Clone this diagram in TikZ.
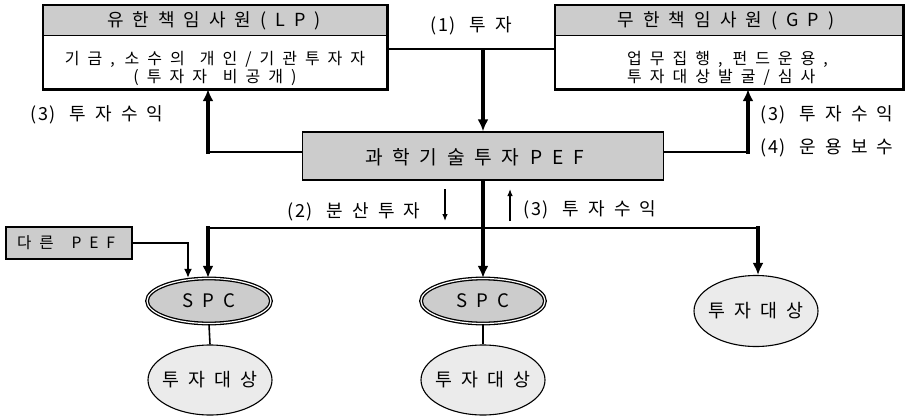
\documentclass[tikz,border=0pt]{standalone}
\usepackage{fontspec}
\setmainfont{Noto Sans CJK KR}
\newfontfamily\krw{Noto Sans CJK KR}[LetterSpace=50]
\newfontfamily\krn{Noto Sans CJK KR}[LetterSpace=10]
\newcommand\np[1]{{\krn{}#1}}
\newcommand\gp[1]{\hspace{#1}}
\usetikzlibrary{arrows.meta,shapes.geometric,calc}
\definecolor{hdr}{gray}{0.80}
\definecolor{lite}{gray}{0.92}
\begin{document}
\begin{tikzpicture}[x=1pt,y=-1pt,
  boxfill/.style={rectangle,inner sep=0pt,fill=white},
  edge/.style={line width=2.6pt},
  graybox/.style={rectangle,inner sep=0pt,fill=hdr,draw=black,line width=1.3pt},
  hdrtxt/.style={font=\krw\fontsize{18}{20}\selectfont,inner sep=0pt},
  bodytxt/.style={font=\krw\fontsize{16}{18}\selectfont,inner sep=0pt,align=center},
  peftxt/.style={font=\krw\fontsize{19.2}{21}\selectfont,inner sep=0pt},
  othtxt/.style={font=\krw\fontsize{15.6}{18}\selectfont,inner sep=0pt},
  lbl/.style={font=\krw\fontsize{18}{20}\selectfont,inner sep=0pt},
  spc/.style={ellipse,draw=black,double=white,double distance=1.2pt,line width=1.3pt,fill=hdr,
    minimum width=124pt,minimum height=45pt,inner sep=0pt,font=\krw\fontsize{18.6}{21}\selectfont},
  target/.style={ellipse,draw=black,line width=1.1pt,fill=lite,minimum width=124pt,
    inner xsep=-16pt,inner ysep=0pt,font=\krw\fontsize{18.4}{21}\selectfont},
  thinline/.style={line width=1.6pt},
  fat/.style={line width=3.4pt,-{Latex[length=12pt,width=11pt]}},
  thinarrow/.style={line width=1.6pt,-{Latex[length=9pt,width=8pt]}},
  small/.style={line width=1.2pt,-{Latex[length=7pt,width=5.5pt]}}
]
\fill[white] (0,0) rectangle (915,415);
\useasboundingbox (0,0) rectangle (915,415);

% LP box
\node[boxfill,minimum width=344pt,minimum height=84pt] (lp) at (215,47) {};
\fill[hdr] (lp.north west) rectangle ([yshift=-31pt]lp.north east);
\draw[line width=1.2pt] ([yshift=-31pt]lp.north west) -- ([yshift=-31pt]lp.north east);
\draw[edge] (lp.north west) rectangle (lp.south east);
\node[hdrtxt] (lph) at (214,21) {유한책임사원(LP)};
\node[bodytxt] (lpb) at (215,68) {기금,\gp{10pt}소수의\gp{15pt}개인/기관투자자\\(투자자\gp{16pt}비공개)};

% GP box
\node[boxfill,minimum width=348pt,minimum height=84pt] (gp) at (729,47) {};
\fill[hdr] (gp.north west) rectangle ([yshift=-31pt]gp.north east);
\draw[line width=1.2pt] ([yshift=-31pt]gp.north west) -- ([yshift=-31pt]gp.north east);
\draw[edge] (gp.north west) rectangle (gp.south east);
\node[hdrtxt] (gph) at (726,21) {무한책임사원(GP)};
\node[bodytxt,align=left,anchor=west] (gpb) at (627,68) {업무집행,\gp{10pt}펀드운용,\\투자대상발굴/심사};

% PEF box
\node[graybox,minimum width=361pt,minimum height=48pt] (pef) at (483,156) {};
\node[peftxt] (peft) at (474.5,157) {과학기술투자\gp{11pt}PEF};

% other PEF
\node[graybox,minimum width=126pt,minimum height=32pt] (oth) at (69,243) {};
\node[othtxt] (otht) at (66,243) {다른\gp{18pt}PEF};

% ellipses
\node[spc] (spc1) at (209,301) {SPC};
\node[spc] (spc2) at (483,301) {SPC};
\node[target,minimum height=70pt] (tz1) at (210,380) {투자대상};
\node[target,minimum height=70pt] (tz2) at (483,380) {투자대상};
\node[target,minimum height=71pt] (tz3) at (756,311) {투자대상};

% top connections
\coordinate (j1) at (483,49);
\draw[thinline] (lp.east |- j1) -- (gp.west |- j1);
\draw[fat] (j1) -- (pef.north);
\node[lbl,anchor=west] (l1) at (430,26) {\np{(1)}\gp{14pt}투자};

\coordinate (r1) at (208,152);
\draw[thinline] (pef.west |- r1) -- (r1);
\draw[fat,line cap=rect] (r1) -- (r1 |- lp.south);
\node[lbl,anchor=west] (l3a) at (30,115) {\np{(3)}\gp{14pt}투자수익};

\coordinate (r2) at (748,152);
\draw[thinline] (pef.east |- r2) -- (r2);
\draw[fat,line cap=rect] (r2) -- (r2 |- gp.south);
\node[lbl,anchor=west] (l3c) at (760,115) {\np{(3)}\gp{14pt}투자수익};
\node[lbl,anchor=west] (l4) at (760,148) {\np{(4)}\gp{14pt}운용보수};

% bottom connections
\draw[fat] (pef.south) -- (spc2.north);
\coordinate (b1) at (208,228);
\coordinate (b2) at (758,228);
\draw[thinline] (b1) -- (b2);
\draw[fat,line cap=rect] (b1) -- (b1 |- spc1.north);
\draw[fat,line cap=rect] (b2) -- (b2 |- tz3.north);

\coordinate (o1) at (188,243);
\draw[thinarrow] (oth.east) -- (o1) -- (o1 |- spc1.north);

\draw[thinline] (spc1.south) -- (tz1.north);
\draw[thinline] (spc2.south) -- (tz2.north);

% small arrows
\coordinate (s1a) at (445,189);
\coordinate (s1b) at (445,221);
\draw[small] (s1a) -- (s1b);
\node[lbl,anchor=west] (l2) at (287,212) {\np{(2)}\gp{14pt}분산투자};
\coordinate (s2a) at (510,221);
\coordinate (s2b) at (510,189);
\draw[small] (s2a) -- (s2b);
\node[lbl,anchor=west] (l3b) at (523,210) {\np{(3)}\gp{14pt}투자수익};
\end{tikzpicture}
\end{document}
